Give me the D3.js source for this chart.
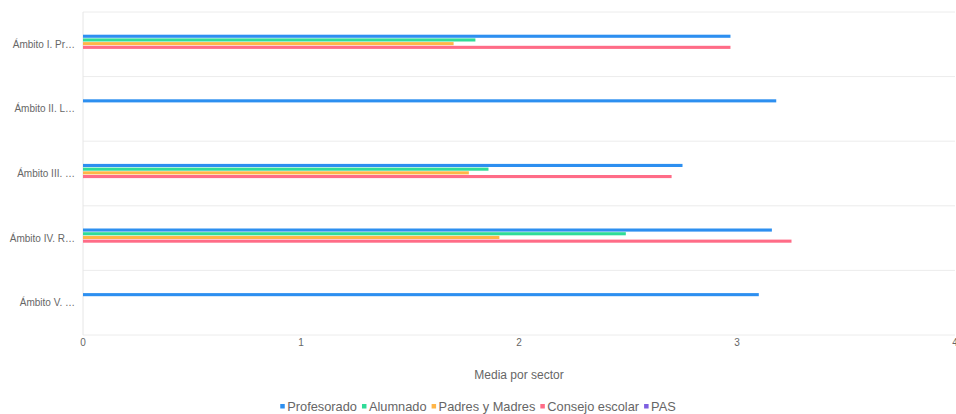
<!DOCTYPE html>
<html><head><meta charset="utf-8">
<script src="https://cdn.jsdelivr.net/npm/d3@7"></script>
<style>body{margin:0;background:#fff}svg{display:block}text{font-family:"Liberation Sans",Arial,sans-serif;fill:#666}</style>
</head><body><svg id="c" width="956" height="414"></svg>
<script>
const categories = ["Ámbito I. Pr…","Ámbito II. L…","Ámbito III. …","Ámbito IV. R…","Ámbito V. …"];
const seriesNames = ["Profesorado","Alumnado","Padres y Madres","Consejo escolar","PAS"];
const profesorado = [2.97, 3.18, 2.75, 3.16, 3.10];
const alumnado = [1.80, 0, 1.86, 2.49, 0];
const padres = [1.70, 0, 1.77, 1.91, 0];
const consejo = [2.97, 0, 2.70, 3.25, 0];
const pas = [0, 0, 0, 0, 0];
const xTicks = [0,1,2,3,4];
const colors = ["#2d8ff0","#2fdc98","#ffb547","#ff6c87","#7d5fe0"];
const seriesValues = [profesorado, alumnado, padres, consejo, pas];

const svg = d3.select("#c");
const L = 83, R = 955, T = 12, B = 335;
const x = d3.scaleLinear().domain([0,4]).range([L,R]);
const y = d3.scaleBand().domain(categories).range([T,B]);
const ys = d3.scaleBand().domain(seriesNames).range([0, 18.5]);

// gridlines
const g = svg.append("g");
const bounds = categories.map(c=>y(c)).concat([B]);
g.selectAll("line.h").data(bounds).enter().append("line")
  .attr("x1",L).attr("x2",R).attr("y1",d=>d).attr("y2",d=>d)
  .attr("stroke","#ececec").attr("stroke-width",1);
g.append("line").attr("x1",L).attr("x2",L).attr("y1",T).attr("y2",B).attr("stroke","#e6e6e6");

// bars
seriesNames.forEach((s,i)=>{
  svg.append("g").selectAll("rect").data(categories.map((c,j)=>({c,v:seriesValues[i][j]})).filter(d=>d.v>0))
    .enter().append("rect")
    .attr("x",x(0))
    .attr("y",d=>y(d.c)+y.bandwidth()/2-9.6+ys(s))
    .attr("width",d=>x(d.v)-x(0))
    .attr("height",3.1)
    .attr("fill",colors[i]);
});

// axes labels
svg.append("g").selectAll("text").data(categories).enter().append("text")
  .attr("x",75).attr("y",d=>y(d)+y.bandwidth()/2+3.5)
  .attr("text-anchor","end").attr("font-size",10).text(d=>d);
svg.append("g").selectAll("text").data(xTicks).enter().append("text")
  .attr("x",d=>x(d)).attr("y",346).attr("text-anchor","middle").attr("font-size",10).text(d=>d);
svg.append("text").attr("x",(L+R)/2).attr("y",379).attr("text-anchor","middle").attr("font-size",12).text("Media por sector");

// legend
const lg = svg.append("g");
const items = [];
let cx = 0;
seriesNames.forEach((s,i)=>{
  const t = lg.append("text").attr("font-size",12.8).attr("y",411).text(s);
  const w = t.node().getComputedTextLength();
  items.push({t,w,x:cx,i});
  cx += 7 + w + 5;
});
const total = cx - 5;
const start = 478 - total/2;
items.forEach(it=>{
  lg.append("rect").attr("x",start+it.x).attr("y",404).attr("width",4.5).attr("height",4.5).attr("fill",colors[it.i]);
  it.t.attr("x",start+it.x+7);
});
</script></body></html>
